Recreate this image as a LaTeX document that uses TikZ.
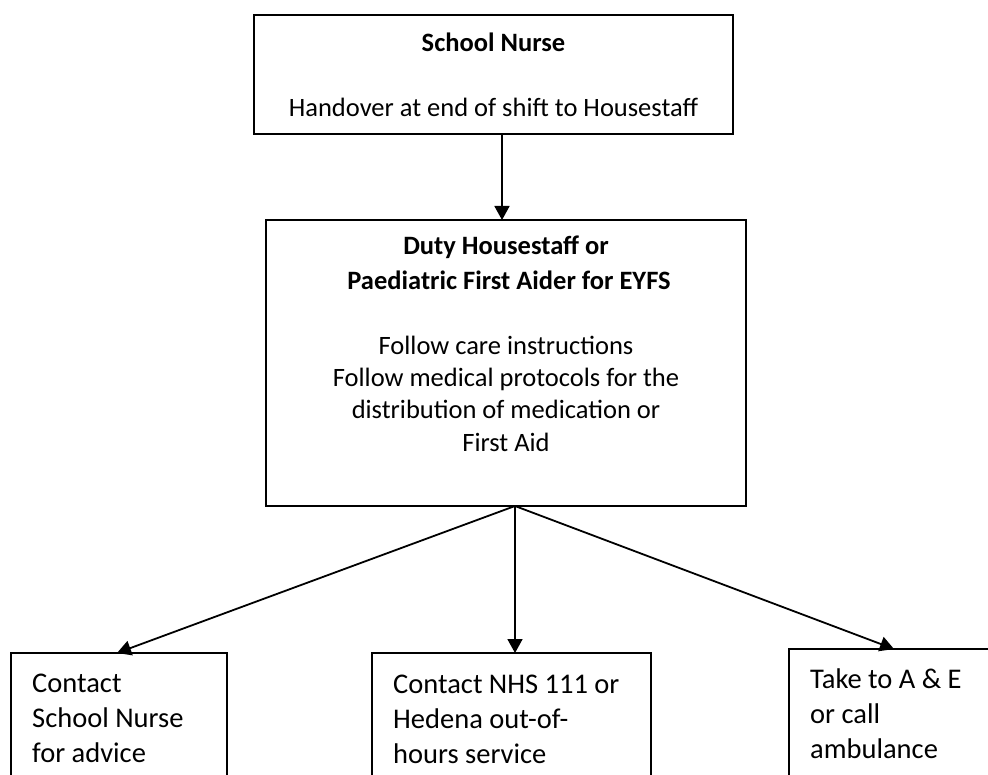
\documentclass[tikz,border=0pt]{standalone}
\usepackage{fontspec}
\setmainfont{Carlito}
\usetikzlibrary{arrows.meta}
\begin{document}
\begin{tikzpicture}[x=1pt,y=-1pt,
  box/.style={draw, line width=1.8pt, inner sep=0pt, outer sep=0pt, anchor=north west},
  arr/.style={line width=1.8pt, -{Triangle[width=15pt,length=14pt]}},
  hd/.style={font=\fontsize{26.5}{32}\selectfont\bfseries, anchor=base, inner sep=0pt},
  tx/.style={font=\fontsize{26.5}{32}\selectfont, anchor=base, inner sep=0pt},
  bt/.style={font=\fontsize{28.5}{35}\selectfont, anchor=base west, inner sep=0pt}]
\useasboundingbox (0,0) rectangle (988,775);
\clip (0,0) rectangle (988,775);
% boxes
\node[box, minimum width=479pt, minimum height=119pt] (nurse) at (254,15) {};
\node[box, minimum width=480pt, minimum height=286pt] (mid) at (266,220) {};
\node[box, minimum width=216pt, minimum height=200pt] (left) at (11,653) {};
\node[box, minimum width=279pt, minimum height=200pt] (centre) at (372,653) {};
\node[box, minimum width=260pt, minimum height=200pt] (right) at (789,649) {};
% texts
\node[hd] (t1) at (493.5,52) {School Nurse};
\node[tx] (t2) at (493.5,117) {Handover at end of shift to Housestaff};
\node[hd] (m1) at (506,255) {Duty Housestaff or};
\node[hd] (m2) at (509,290) {Paediatric First Aider for EYFS};
\node[tx] (m3) at (506,355) {Follow care instructions};
\node[tx] (m4) at (506,387) {Follow medical protocols for the};
\node[tx] (m5) at (506,419) {distribution of medication or};
\node[tx] (m6) at (506,451) {First Aid};
\node[bt] (l1) at (32,692) {Contact};
\node[bt] (l2) at (32,727) {School Nurse};
\node[bt] (l3) at (32,762) {for advice};
\node[bt] (c1) at (393,693) {Contact NHS 111 or};
\node[bt] (c2) at (393,728) {Hedena out-of-};
\node[bt] (c3) at (393,763) {hours service};
\node[bt] (r1) at (810,688) {Take to A \& E};
\node[bt] (r2) at (810,723) {or call};
\node[bt] (r3) at (810,758) {ambulance};
% connectors
\coordinate (xa) at (502,0);
\coordinate (xb) at (515,0);
\coordinate (xl) at (117,0);
\coordinate (xr) at (894,0);
\draw[arr] (nurse.south -| xa) -- (mid.north -| xa);
\draw[arr] (mid.south -| xb) -- (left.north -| xl);
\draw[arr] (mid.south -| xb) -- (centre.north -| xb);
\draw[arr] (mid.south -| xb) -- (right.north -| xr);
\end{tikzpicture}
\end{document}
